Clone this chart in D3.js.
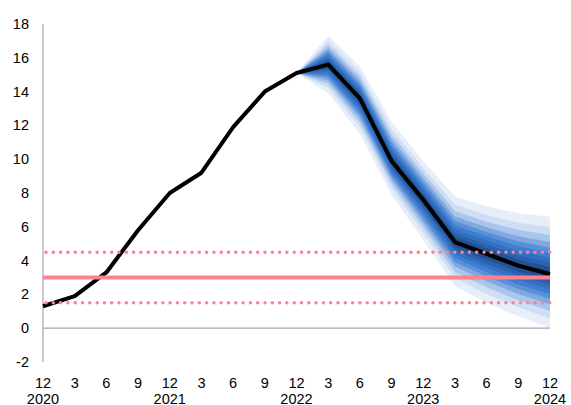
<!DOCTYPE html>
<html>
<head>
<meta charset="utf-8">
<script src="https://cdn.jsdelivr.net/npm/d3@7"></script>
<style>
  body { margin: 0; background: #fff; }
  svg text { font-family: "Liberation Sans", Arial, sans-serif; font-size: 14.5px; fill: #000; }
</style>
</head>
<body>
<div id="chart"></div>
<script>
// Inflation outturn and projection fan chart (quarters 12/2020 .. 12/2024)

// Month labels along the x axis (one per quarter)
const monthLabels = ['12','3','6','9','12','3','6','9','12','3','6','9','12','3','6','9','12'];
// Year labels sit under each "12"
const yearLabels = ['2020','2021','2022','2023','2024'];
const yTicks = [-2, 0, 2, 4, 6, 8, 10, 12, 14, 16, 18];

// Outturn + central projection (quarter index 0..16)
const centralLine = [1.3, 1.9, 3.3, 5.8, 8.0, 9.2, 11.9, 14.0, 15.1, 15.6, 13.6, 9.9, 7.6, 5.1, 4.4, 3.7, 3.2];

// Fan starts at quarter 8 (12/2022)
const fanStart = 8;
const fanUpper = [15.1, 17.3, 15.5, 12.2, 9.9, 7.8, 7.2, 6.8, 6.6];
const fanLower = [15.1, 13.9, 11.5, 7.9, 5.2, 2.5, 1.5, 0.7, 0.0];
// Share of outer spread covered by each shaded band (outer -> inner)
const bandShares = [1, 0.82, 0.68, 0.56, 0.46, 0.37, 0.28, 0.2, 0.12, 0.05];
const bandColors = ['#e6eef9','#cfdff3','#a9c5eb','#80a9e1','#5a90d8','#3f7dd0','#3270c2','#2a62ae','#225294','#1b3f74'];

// Target and tolerance band
const target = 3.0;
const targetLow = 1.5;
const targetHigh = 4.5;

const width = 571, height = 405;
const svg = d3.select('#chart').append('svg')
    .attr('width', width)
    .attr('height', height);

const x = d3.scaleLinear().domain([0, 16]).range([43, 550]);
const y = d3.scaleLinear().domain([-2, 18]).range([362, 24]);

// Fan bands
const fanIdx = d3.range(fanUpper.length);
bandShares.forEach((s, i) => {
    const area = d3.area()
        .x(k => x(fanStart + k))
        .y0(k => y(centralLine[fanStart + k] - s * (centralLine[fanStart + k] - fanLower[k])))
        .y1(k => y(centralLine[fanStart + k] + s * (fanUpper[k] - centralLine[fanStart + k])));
    svg.append('path')
        .datum(fanIdx)
        .attr('d', area)
        .attr('fill', bandColors[i]);
});

// Axes lines
svg.append('line')
    .attr('x1', x(0)).attr('x2', x(0))
    .attr('y1', y(18)).attr('y2', y(-2))
    .attr('stroke', '#a6a6a6').attr('stroke-width', 1.2);
svg.append('line')
    .attr('x1', x(0)).attr('x2', x(16))
    .attr('y1', y(0)).attr('y2', y(0))
    .attr('stroke', '#a6a6a6').attr('stroke-width', 1.2);

// Y tick labels
svg.selectAll('.ylab')
    .data(yTicks)
    .enter()
    .append('text')
    .attr('class', 'ylab')
    .attr('x', 29)
    .attr('y', d => y(d) + 5)
    .attr('text-anchor', 'end')
    .text(d => d);

// X tick labels
svg.selectAll('.xlab')
    .data(monthLabels)
    .enter()
    .append('text')
    .attr('class', 'xlab')
    .attr('x', (d, i) => x(i))
    .attr('y', 388)
    .attr('text-anchor', 'middle')
    .text(d => d);

svg.selectAll('.yearlab')
    .data(yearLabels)
    .enter()
    .append('text')
    .attr('class', 'yearlab')
    .attr('x', (d, i) => x(i * 4))
    .attr('y', 404)
    .attr('text-anchor', 'middle')
    .text(d => d);

// Central line
const line = d3.line()
    .x((d, i) => x(i))
    .y(d => y(d));
svg.append('path')
    .datum(centralLine)
    .attr('d', line)
    .attr('fill', 'none')
    .attr('stroke', '#000')
    .attr('stroke-width', 4)
    .attr('stroke-linejoin', 'round');

// Target lines
const pink = '#ff8090';
[targetLow, targetHigh].forEach(v => {
    svg.append('line')
        .attr('x1', x(0) + 3).attr('x2', x(16))
        .attr('y1', y(v)).attr('y2', y(v))
        .attr('stroke', pink)
        .attr('stroke-width', 3.5)
        .attr('stroke-linecap', 'round')
        .attr('stroke-dasharray', '0,7.3');
});
svg.append('line')
    .attr('x1', x(0)).attr('x2', x(16))
    .attr('y1', y(target)).attr('y2', y(target))
    .attr('stroke', pink)
    .attr('stroke-width', 4);
</script>
</body>
</html>
